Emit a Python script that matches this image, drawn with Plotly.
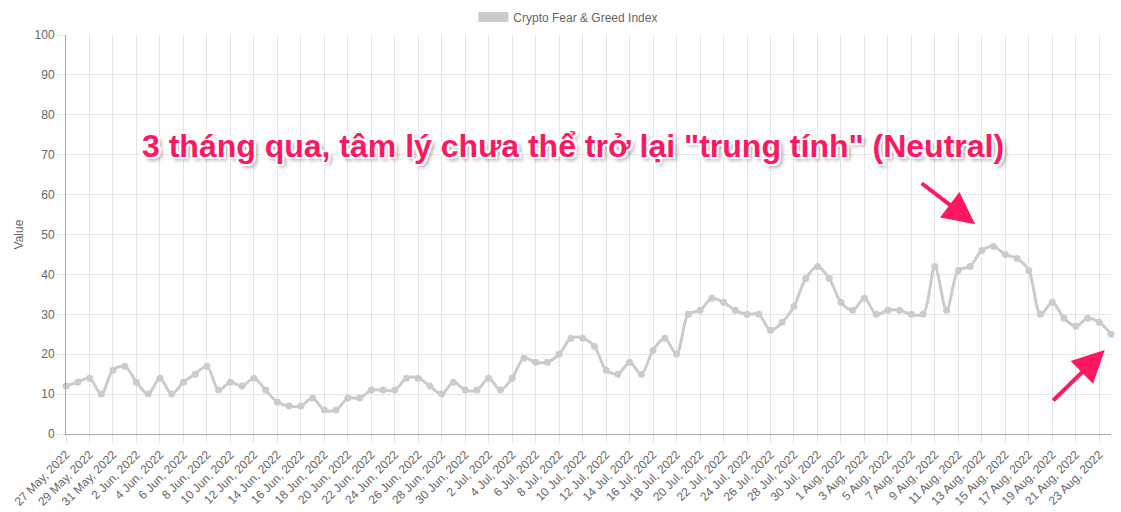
import pandas as pd
import plotly.graph_objects as go

# Crypto Fear & Greed Index, daily, 27 May 2022 .. 24 Aug 2022
start_date = "2022-05-27"
index_values = [
    12, 13, 14, 10, 16, 17, 13, 10, 14, 10,
    13, 15, 17, 11, 13, 12, 14, 11, 8, 7,
    7, 9, 6, 6, 9, 9, 11, 11, 11, 14,
    14, 12, 10, 13, 11, 11, 14, 11, 14, 19,
    18, 18, 20, 24, 24, 22, 16, 15, 18, 15,
    21, 24, 20, 30, 31, 34, 33, 31, 30, 30,
    26, 28, 32, 39, 42, 39, 33, 31, 34, 30,
    31, 31, 30, 30, 42, 31, 41, 42, 46, 47,
    45, 44, 41, 30, 33, 29, 27, 29, 28, 25,
]
dates = pd.date_range(start_date, periods=len(index_values), freq="D")

series_name = "Crypto Fear & Greed Index"
headline = '3 tháng qua, tâm lý chưa thể trở lại "trung tính" (Neutral)'

LINE_GREY = "rgb(201,203,207)"
PINK = "#ff1760"
TEXT_GREY = "#666666"
GRID = "#e5e5e5"

fig = go.Figure()

fig.add_trace(go.Scatter(
    x=dates,
    y=index_values,
    mode="lines+markers",
    line=dict(color=LINE_GREY, width=3, shape="spline", smoothing=0.9),
    marker=dict(color=LINE_GREY, size=7),
    cliponaxis=False,
    showlegend=False,
    name=series_name,
))

# legend entry drawn as a wide grey swatch, like the original legend box
fig.add_trace(go.Scatter(
    x=[None], y=[None],
    mode="lines",
    line=dict(color=LINE_GREY, width=10),
    name=series_name,
))

shadow = ("-2px -2px 0 #fff, 2px -2px 0 #fff, -2px 2px 0 #fff, 2px 2px 0 #fff, "
          "0 -2px 0 #fff, 0 2px 0 #fff, -2px 0 0 #fff, 2px 0 0 #fff, "
          "3px 3px 4px rgba(0,0,0,0.45)")

# the diacritics make the text box taller, so it sits a bit higher than 0.719
fig.add_annotation(
    xref="paper", yref="paper", x=0.485, y=0.771,
    text=f"<b>{headline}</b>",
    showarrow=False,
    font=dict(family="Liberation Sans, Arial", size=32, color=PINK, shadow=shadow),
)

# the two pink arrows
for tip_x, tip_y, ax, ay in [(0.870, 0.526, -55, -42), (0.994, 0.2105, -53, 52)]:
    fig.add_annotation(
        xref="paper", yref="paper", x=tip_x, y=tip_y,
        ax=ax, ay=ay, text="",
        showarrow=True, arrowhead=2, arrowsize=1.6, arrowwidth=4,
        arrowcolor=PINK, standoff=0,
    )

fig.update_layout(
    width=1121, height=512,
    margin=dict(l=66, r=10, t=35, b=78, autoexpand=False),
    paper_bgcolor="white",
    plot_bgcolor="white",
    font=dict(family="Liberation Sans, Arial", size=12, color=TEXT_GREY),
    legend=dict(
        orientation="h",
        xref="container", yref="container",
        x=0.507, xanchor="center", y=0.995, yanchor="top",
        font=dict(size=12, color=TEXT_GREY),
    ),
)

fig.update_xaxes(
    type="date",
    range=[dates[0], dates[-1]],
    tick0=dates[0],
    dtick=2 * 86400000,
    tickformat="%-d %b, %Y",
    tickangle=-45,
    ticks="outside", ticklen=8, tickcolor=GRID,
    showgrid=True, gridcolor=GRID, gridwidth=1,
    showline=True, linecolor="#a8a8a8", linewidth=1,
    zeroline=False,
    automargin=False,
    tickfont=dict(size=12, color=TEXT_GREY),
)

fig.update_yaxes(
    range=[0, 100],
    dtick=10,
    ticks="outside", ticklen=8, tickcolor=GRID,
    showgrid=True, gridcolor=GRID, gridwidth=1,
    showline=True, linecolor="#a8a8a8", linewidth=1,
    zeroline=False,
    automargin=False,
    title=dict(text="Value", font=dict(size=12, color=TEXT_GREY), standoff=8),
    tickfont=dict(size=12, color=TEXT_GREY),
)

# drop the browser's default 8px body margin so the figure fills the window
fig.write_html("out.html", config={"displayModeBar": False},
               post_script="document.body.style.margin = '0';")
